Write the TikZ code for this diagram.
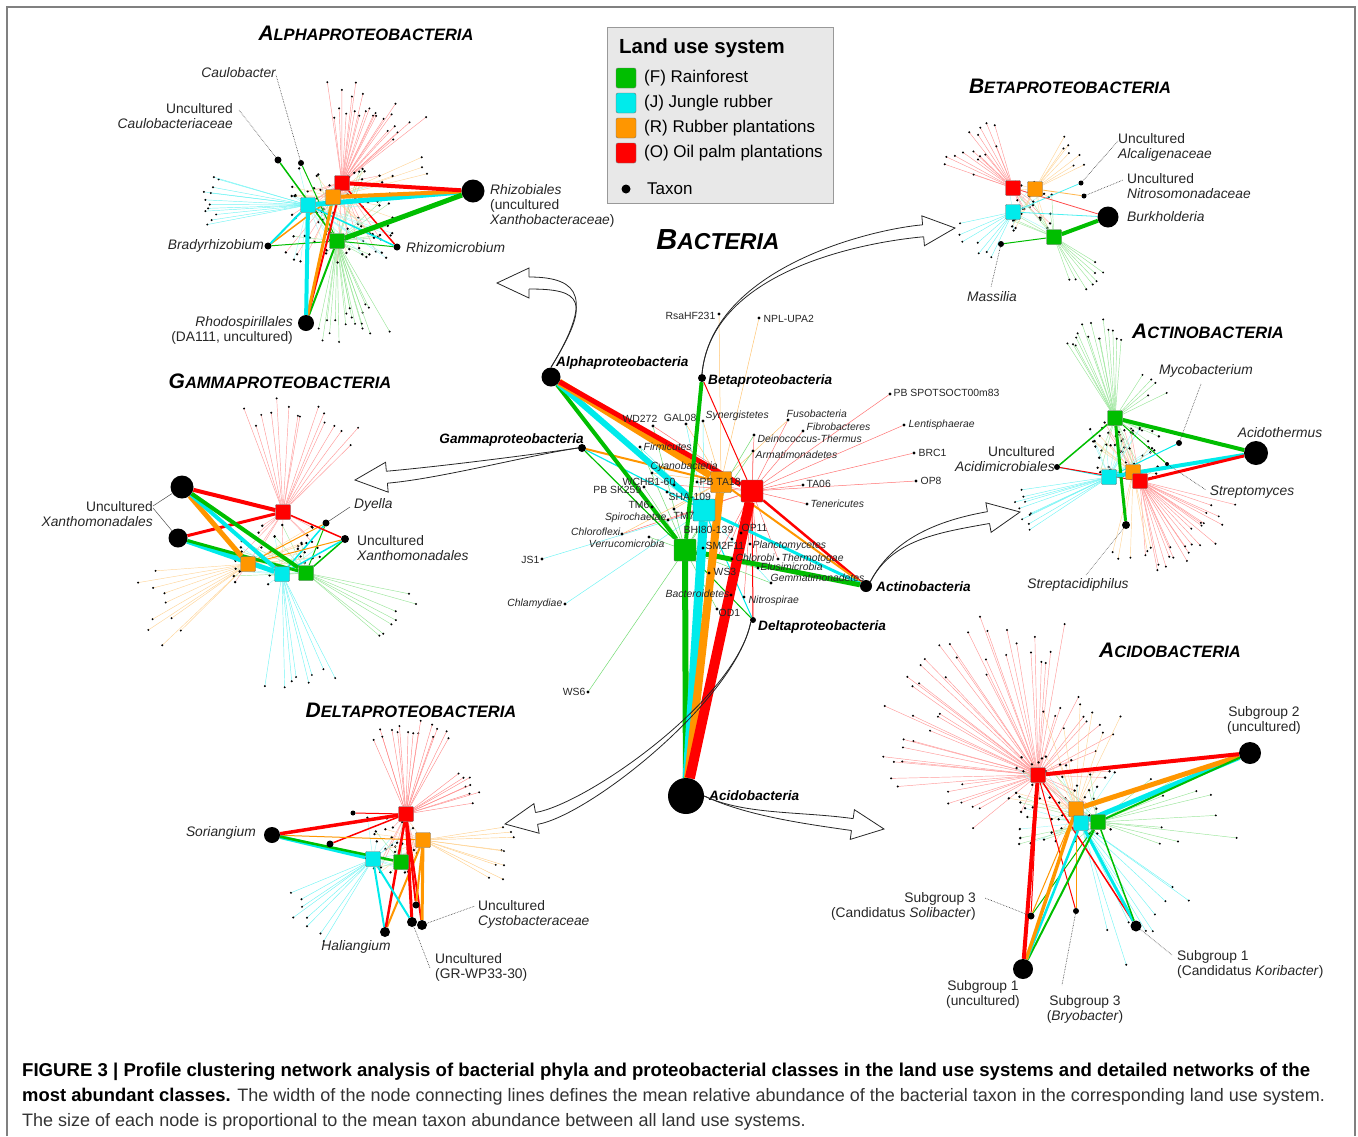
\documentclass[tikz,border=0pt]{standalone}
\usepackage{fontspec}
\setmainfont{Liberation Sans}
\usetikzlibrary{calc}
\definecolor{colF}{RGB}{0,190,0}
\definecolor{colJ}{RGB}{0,235,235}
\definecolor{colR}{RGB}{255,150,0}
\definecolor{colO}{RGB}{255,0,0}
\pgfdeclarelayer{bg}
\pgfsetlayers{bg,main}
\tikzset{
 fanline/.style={line width=0.45pt},
 sq/.style={rectangle, draw=black!55, line width=0.4pt, minimum size=15pt, inner sep=0pt, rounded corners=1pt},
 csq/.style={sq, minimum size=22pt},
 hub/.style={circle, fill=black, inner sep=0pt, minimum size=#1},
 lab/.style={font=\fontsize{13.8}{15}\selectfont, inner sep=1pt, text=black!85},
 phl/.style={font=\fontsize{10.4}{11}\selectfont, inner sep=0.5pt, text=black!85},
 cls/.style={font=\fontsize{13.6}{14}\selectfont\bfseries\itshape, inner sep=1pt},
 leader/.style={densely dotted, line width=0.6pt, black!80},
 harrow/.style={line width=0.8pt, black!85, line join=miter},
 ttl/.style={font=\bfseries\itshape, inner sep=0pt},
 cline/.style={line width=0.5pt},
}
\newcommand\sctitle[2]{{\fontsize{21}{21}\selectfont #1}{\fontsize{16.5}{16.5}\selectfont #2}}
\newcommand\netfan[7]{%
 \foreach \k in {1,...,#5}{%
  \pgfmathsetmacro\fa{#3+(#4-#3)*(\k-0.5)/#5+3*rand}%
  \pgfmathsetmacro\fr{#6+(#7-#6)*rnd}%
  \draw[fanline,#2] (#1) -- ++(\fa:\fr) coordinate (fe);
  \fill[black] (fe) circle (1.1);
 }}
\newcommand\netcluster[6]{%
 \foreach \k in {1,...,#5}{%
  \pgfmathsetmacro\px{#1+#3*rand}%
  \pgfmathsetmacro\py{#2+#4*rand}%
  \pgfmathtruncatemacro\sqi{mod(\k,4)}%
  \pgfmathsetmacro\sqn{{"F","J","R","O"}[\sqi]}%
  \draw[fanline, col\sqn!35] (#6\sqn) -- (\px,\py);
  \fill[black] (\px,\py) circle (1.3);
 }}
\newcommand\hollowarrow[4]{%
 \begin{scope}[shift={#2}, rotate=#3]
  \coordinate (hb1) at (-32,6); \coordinate (hb2) at (-32,-6);
  \coordinate (hc1) at (-85,6); \coordinate (hc2) at (-85,-6);
  \draw[harrow] (hb1) -- (-32,15) -- (0,0) -- (-32,-15) -- (hb2);
 \end{scope}
 \draw[harrow] #1 .. controls #4 and (hc1) .. (hb1);
 \draw[harrow] #1 .. controls #4 and (hc2) .. (hb2);
}
\newcommand\phy[7]{%
 \node[hub=3.2] (#1) at (#2,#3) {};
 \node[phl, anchor=#6] (#1-l) at (#4,#5) {#7};
}
\begin{document}
\begin{tikzpicture}[x=1pt,y=-1pt]
\useasboundingbox (0,0) rectangle (1358,1136);
\pgfmathsetseed{2024}
\draw[black!50, line width=1.2pt] (7,1136) -- (7,7) -- (1355,7) -- (1355,1136);

% ---------------- legend
\node[draw=black!40, fill=black!9, minimum width=226pt, minimum height=176pt, anchor=north west, inner sep=0pt] (legend) at (607,27) {};
\node[anchor=west, font=\fontsize{20.4}{21}\selectfont\bfseries, inner sep=0pt] (legT) at (619,48) {Land use system};
\node[sq, minimum size=20pt, rounded corners=2pt, fill=colF] (legF) at (626,78) {};
\node[sq, minimum size=20pt, rounded corners=2pt, fill=colJ] (legJ) at (626,103) {};
\node[sq, minimum size=20pt, rounded corners=2pt, fill=colR] (legR) at (626,128) {};
\node[sq, minimum size=20pt, rounded corners=2pt, fill=colO] (legO) at (626,153) {};
\node[hub=9] (legX) at (626,189) {};
\node[anchor=west, font=\fontsize{17}{18}\selectfont, inner sep=0pt] (legFt) at (644,78) {(F) Rainforest};
\node[anchor=west, font=\fontsize{17}{18}\selectfont, inner sep=0pt] (legJt) at (644,103) {(J) Jungle rubber};
\node[anchor=west, font=\fontsize{17}{18}\selectfont, inner sep=0pt] (legRt) at (644,128) {(R) Rubber plantations};
\node[anchor=west, font=\fontsize{17}{18}\selectfont, inner sep=0pt] (legOt) at (644,153) {(O) Oil palm plantations};
\node[anchor=west, font=\fontsize{17}{18}\selectfont, inner sep=0pt] (legXt) at (647,189) {Taxon};

% ---------------- titles
\node[ttl] (tAlpha) at (366,33) {\sctitle{A}{LPHAPROTEOBACTERIA}};
\node[ttl] (tBeta) at (1070,86) {\sctitle{B}{ETAPROTEOBACTERIA}};
\node[ttl] (tGamma) at (280,381) {\sctitle{G}{AMMAPROTEOBACTERIA}};
\node[ttl] (tActino) at (1208,331) {\sctitle{A}{CTINOBACTERIA}};
\node[ttl] (tDelta) at (411,710) {\sctitle{D}{ELTAPROTEOBACTERIA}};
\node[ttl] (tAcido) at (1170,650) {\sctitle{A}{CIDOBACTERIA}};
\node[ttl] (tBact) at (718,240) {{\fontsize{29}{29}\selectfont B}{\fontsize{23}{23}\selectfont ACTERIA}};

% ================= CENTER NETWORK
\node[csq, fill=colF] (ceF) at (685,550) {};
\node[csq, fill=colJ] (ceJ) at (704,510) {};
\node[csq, fill=colR, minimum size=21pt] (ceR) at (721,482) {};
\node[csq, fill=colO] (ceO) at (752,491) {};
\node[hub=36] (ceAcido) at (686,796) {};
\node[hub=19] (ceAlpha) at (551,377) {};
\node[hub=8] (ceBeta) at (702,378) {};
\node[hub=8] (ceGamma) at (582,448) {};
\node[hub=12] (ceActino) at (866,586) {};
\node[hub=6] (ceDelta) at (753,620) {};
\node[cls, anchor=west] (ceAlpha-l) at (555,363) {Alphaproteobacteria};
\node[cls, anchor=west] (ceBeta-l) at (707,381) {Betaproteobacteria};
\node[cls, anchor=east] (ceGamma-l) at (585,440) {Gammaproteobacteria};
\node[cls, anchor=west] (ceActino-l) at (875,587) {Actinobacteria};
\node[cls, anchor=west] (ceDelta-l) at (757,627) {Deltaproteobacteria};
\node[cls, anchor=west] (ceAcido-l) at (708,796) {Acidobacteria};

\phy{Rsa}{719}{314}{716}{316}{east}{RsaHF231}
\phy{NPL}{759}{318}{763}{319}{west}{NPL-UPA2}
\phy{SPOT}{890}{394}{893}{393}{west}{PB SPOTSOCT00m83}
\phy{Lent}{904}{425}{908}{425}{west}{\itshape Lentisphaerae}
\phy{BRC}{914}{453}{918}{453}{west}{BRC1}
\phy{OPe}{916}{481}{920}{481}{west}{OP8}
\phy{WD}{653}{426}{658}{419}{east}{WD272}
\phy{GAL}{686}{424}{697}{418}{east}{GAL08}
\phy{Syn}{703}{421}{705}{416}{west}{\itshape Synergistetes}
\phy{Fuso}{788}{420}{786}{414}{west}{\itshape Fusobacteria}
\phy{Fibro}{803}{431}{806}{427}{west}{\itshape Fibrobacteres}
\phy{Dein}{754}{435}{757}{439}{west}{\itshape Deinococcus-Thermus}
\phy{Arma}{753}{451}{755}{455}{west}{\itshape Armatimonadetes}
\phy{Firm}{640}{447}{643}{447}{west}{\itshape Firmicutes}
\phy{Cyano}{652}{473}{650}{467}{west}{\itshape Cyanobacteria}
\phy{WCHB}{674}{485}{676}{482}{east}{WCHB1-60}
\phy{PBTA}{697}{482}{699}{482}{west}{PB TA18}
\phy{PBSK}{644}{487}{642}{490}{east}{PB SK259}
\phy{SHA}{667}{492}{668}{497}{west}{SHA-109}
\phy{TMs}{652}{507}{650}{505}{east}{TM6}
\phy{TMz}{674}{509}{673}{516}{west}{TM7}
\phy{Spiro}{668}{520}{667}{518}{east}{\itshape Spirochaetae}
\phy{Chlfx}{622}{534}{621}{532}{east}{\itshape Chloroflexi}
\phy{Verr}{649}{537}{665}{544}{east}{\itshape Verrucomicrobia}
\phy{BHI}{732}{539}{734}{530}{east}{BHI80-139}
\phy{OPel}{741}{533}{741}{528}{west}{OP11}
\phy{SMz}{703}{548}{705}{546}{west}{SM2F11}
\phy{Planc}{750}{544}{752}{546}{west}{\itshape Planctomycetes}
\phy{Chlb}{732}{559}{735}{558}{west}{\itshape Chlorobi}
\phy{Thermo}{778}{559}{781}{559}{west}{\itshape Thermotogae}
\phy{Elus}{758}{568}{760}{567}{west}{\itshape Elusimicrobia}
\phy{Gemm}{771}{583}{770}{578}{west}{\itshape Gemmatimonadetes}
\phy{WSt}{709}{573}{713}{572}{west}{WS3}
\phy{Bact}{731}{595}{730}{594}{east}{\itshape Bacteroidetes}
\phy{Nitro}{744}{597}{748}{601}{west}{\itshape Nitrospirae}
\phy{ODo}{717}{609}{718}{613}{west}{OD1}
\phy{JSo}{542}{559}{540}{560}{east}{JS1}
\phy{Chlam}{565}{604}{563}{604}{east}{\itshape Chlamydiae}
\phy{TAz}{803}{485}{806}{484}{west}{TA06}
\phy{Tene}{807}{504}{810}{504}{west}{\itshape Tenericutes}
\phy{WSs}{588}{692}{586}{692}{east}{WS6}

\begin{pgfonlayer}{bg}
\foreach \p/\c in {Rsa/R, NPL/R, SPOT/O, Lent/O, BRC/O, OPe/O, TAz/O, Tene/O, Fibro/O, Fuso/O, Fuso/R, Dein/O, Dein/F, Arma/O, Arma/F, WD/O, WD/F, GAL/J, GAL/R, Syn/J, Syn/R, Firm/F, Firm/J, Cyano/R, Cyano/J, WCHB/O, PBTA/O, PBSK/F, SHA/J, TMs/F, TMz/R, Spiro/O, Chlfx/R, Chlfx/O, Verr/F, BHI/O, OPel/O, SMz/F, Planc/O, Chlb/F, Thermo/O, Elus/F, Elus/O, Gemm/F, Gemm/J, WSt/O, Bact/O, Nitro/O, ODo/F, JSo/J, Chlam/J, WSs/F}
  \draw[cline, col\c!55] (ce\c) -- (\p);
\draw[colO, line width=1pt] (ceO) -- (ceBeta);
\draw[colF, line width=1pt] (ceF) -- (ceDelta);
\draw[colJ, line width=1pt] (ceJ) -- (ceDelta);
\draw[colO, line width=1pt] (ceO) -- (ceDelta);
\draw[colF, line width=1.2pt] (ceF) -- (ceGamma);
\draw[colJ, line width=1.2pt] (ceJ) -- (ceGamma);
\draw[colR, line width=2pt] (ceR) -- (ceGamma);
\draw[colF, line width=4pt] (ceF) -- (ceAlpha);
\draw[colJ, line width=6pt] (ceJ) -- (ceAlpha);
\draw[colR, line width=7pt] (ceR) -- (ceAlpha);
\draw[colO, line width=5pt] (ceO) -- (ceAlpha);
\draw[colF, line width=4pt] (ceF) -- (ceBeta);
\draw[colO, line width=2.5pt] (ceO) -- (ceActino);
\draw[colR, line width=2pt] (ceR) -- (ceActino);
\draw[colJ, line width=3pt] (ceJ) -- (ceActino);
\draw[colF, line width=5pt] (ceF) -- (ceActino);
\draw[colF, line width=6pt] (ceF) -- (ceAcido);
\draw[colJ, line width=9pt] (ceJ) -- (ceAcido);
\draw[colR, line width=8pt] (ceR) -- (ceAcido);
\draw[colO, line width=10pt] (ceO) -- (ceAcido);
\end{pgfonlayer}

% hollow arrows
\hollowarrow{(ceAlpha.north)}{(497,283)}{180}{(592,300)}
\hollowarrow{(ceBeta.north)}{(955,228)}{5}{(712,268)}
\hollowarrow{(ceGamma.west)}{(355,480)}{185}{(530,455)}
\hollowarrow{(ceActino.north east)}{(1020,512)}{10}{(892,540)}
\hollowarrow{(ceDelta.south west)}{(505,824)}{190}{(735,700)}
\hollowarrow{(ceAcido.east)}{(884,829)}{-8}{(745,815)}

% ================= ALPHA
\node[sq, fill=colO] (alO) at (342,183) {};
\node[sq, fill=colR] (alR) at (333,197) {};
\node[sq, fill=colJ] (alJ) at (308,205) {};
\node[sq, fill=colF] (alF) at (337,241) {};
\node[hub=23] (alRhizob) at (473,191) {};
\node[hub=7] (alBrady) at (268,246) {};
\node[hub=7] (alRhizom) at (397,247) {};
\node[hub=16] (alRhodo) at (306,323) {};
\node[hub=6] (alCaulo) at (301,163) {};
\node[hub=7] (alCauloF) at (278,160) {};
\begin{pgfonlayer}{bg}
\netfan{alO}{colO!40}{-100}{-35}{24}{65}{110}
\netfan{alR}{colR!40}{-25}{-10}{3}{90}{100}
\netfan{alJ}{colJ!55}{165}{200}{12}{90}{105}
\netfan{alF}{colF!40}{60}{100}{18}{65}{105}
\netcluster{338}{215}{55}{48}{90}{al}
\draw[colF, line width=1.5pt] (alF) -- (alCauloF);
\draw[colF, line width=1pt] (alF) -- (alCaulo);
\draw[colF, line width=1pt] (alF) -- (alBrady);
\draw[colR, line width=1.5pt] (alR) -- (alBrady);
\draw[colJ, line width=2pt] (alJ) -- (alBrady);
\draw[colF, line width=1pt] (alF) -- (alRhizom);
\draw[colJ, line width=1.5pt] (alJ) -- (alRhizom);
\draw[colO, line width=1.5pt] (alO) -- (alRhizom);
\draw[colF, line width=2pt] (alF) -- (alRhodo);
\draw[colO, line width=2pt] (alO) -- (alRhodo);
\draw[colR, line width=3pt] (alR) -- (alRhodo);
\draw[colJ, line width=4pt] (alJ) -- (alRhodo);
\draw[colJ, line width=5pt] (alJ) -- (alRhizob);
\draw[colR, line width=4pt] (alR) -- (alRhizob);
\draw[colO, line width=4pt] (alO) -- (alRhizob);
\draw[colF, line width=5pt] (alF) -- (alRhizob);
\end{pgfonlayer}
\node[lab, anchor=east] (alCaulo-l) at (277,73) {\itshape Caulobacter};
\draw[leader] (alCaulo) -- (276,75);
\node[lab, anchor=east, align=right] (alCauloF-l) at (234,116) {Uncultured\\\itshape Caulobacteriaceae};
\draw[leader] (alCauloF) -- (239,110);
\node[lab, anchor=west, align=left] (alRhizob-l) at (489,206) {{\itshape Rhizobiales}\\(uncultured\\{\itshape Xanthobacteraceae})};
\node[lab, anchor=east] (alBrady-l) at (265,246) {\itshape Bradyrhizobium};
\node[lab, anchor=west] (alRhizom-l) at (405,248) {\itshape Rhizomicrobium};
\node[lab, anchor=east, align=right] (alRhodo-l) at (294,330) {{\itshape Rhodospirillales}\\(DA111, uncultured)};

% ================= BETA
\node[sq, fill=colO] (beO) at (1013,188) {};
\node[sq, fill=colR] (beR) at (1035,189) {};
\node[sq, fill=colJ] (beJ) at (1013,212) {};
\node[sq, fill=colF] (beF) at (1054,237) {};
\node[hub=21] (beBurk) at (1108,217) {};
\node[hub=6] (beMass) at (1001,244) {};
\node[hub=5] (beAlc) at (1081,183) {};
\node[hub=5] (beNit) at (1084,196) {};
\begin{pgfonlayer}{bg}
\netfan{beO}{colO!40}{195}{255}{15}{40}{75}
\netfan{beR}{colR!40}{-65}{-25}{7}{45}{65}
\netfan{beJ}{colJ!55}{110}{170}{7}{40}{65}
\netfan{beF}{colF!40}{30}{70}{8}{45}{65}
\netcluster{1030}{207}{22}{25}{35}{be}
\draw[colR!70, line width=0.8pt] (beR) -- (beNit);
\draw[colJ!70, line width=0.8pt] (beJ) -- (beAlc);
\draw[colO!70, line width=0.8pt] (beO) -- (beBurk);
\draw[colJ!70, line width=0.8pt] (beJ) -- (beBurk);
\draw[colF, line width=1pt] (beF) -- (beMass);
\draw[colF, line width=4pt] (beF) -- (beBurk);
\end{pgfonlayer}
\node[lab, anchor=west, align=left] (beAlc-l) at (1117,147) {Uncultured\\\itshape Alcaligenaceae};
\draw[leader] (beAlc) -- (1118,141);
\node[lab, anchor=west, align=left] (beNit-l) at (1126,186) {Uncultured\\\itshape Nitrosomonadaceae};
\draw[leader] (beNit) -- (1123,180);
\node[lab, anchor=west] (beBurk-l) at (1126,217) {\itshape Burkholderia};
\node[lab] (beMass-l) at (992,297) {\itshape Massilia};
\draw[leader] (beMass) -- (991,287);

% ================= ACTINO
\node[sq, fill=colF] (acF) at (1115,418) {};
\node[sq, fill=colR] (acR) at (1133,472) {};
\node[sq, fill=colJ] (acJ) at (1109,477) {};
\node[sq, fill=colO] (acO) at (1140,481) {};
\node[hub=24] (acAcido) at (1256,453) {};
\node[hub=6] (acAcim) at (1057,467) {};
\node[hub=6] (acMyco) at (1179,443) {};
\node[hub=4] (acStrepto) at (1167,464) {};
\node[hub=8] (acStrepta) at (1126,525) {};
\begin{pgfonlayer}{bg}
\netfan{acF}{colF!40}{-125}{-85}{15}{75}{100}
\netfan{acF}{colF!40}{-60}{-25}{5}{40}{60}
\netfan{acO}{colO!40}{15}{85}{22}{70}{100}
\netfan{acJ}{colJ!55}{145}{172}{10}{85}{100}
\netfan{acR}{colR!40}{70}{110}{5}{70}{90}
\netcluster{1125}{450}{35}{30}{60}{ac}
\draw[colF, line width=1.5pt] (acF) -- (acAcim);
\draw[colJ, line width=1pt] (acJ) -- (acAcim);
\draw[colO, line width=1pt] (acO) -- (acAcim);
\draw[colF, line width=1pt] (acF) -- (acStrepto);
\draw[colJ, line width=1pt] (acJ) -- (acMyco);
\draw[colF, line width=3pt] (acF) -- (acStrepta);
\draw[colR, line width=1.5pt] (acR) -- (acAcido);
\draw[colJ, line width=4pt] (acJ) -- (acAcido);
\draw[colO, line width=3pt] (acO) -- (acAcido);
\draw[colF, line width=4pt] (acF) -- (acAcido);
\end{pgfonlayer}
\node[lab] (acMyco-l) at (1206,371) {\itshape Mycobacterium};
\draw[leader] (acMyco) -- (1201,384);
\node[lab] (acAcido-l) at (1280,433) {\itshape Acidothermus};
\node[lab, anchor=east, align=right] (acAcim-l) at (1056,459) {Uncultured\\\itshape Acidimicrobiales};
\node[lab] (acStrepto-l) at (1252,492) {\itshape Streptomyces};
\draw[leader] (acStrepto) -- (1206,490);
\node[lab] (acStrepta-l) at (1078,585) {\itshape Streptacidiphilus};
\draw[leader] (acStrepta) -- (1086,575);

% ================= GAMMA
\node[sq, fill=colO] (gaO) at (283,512) {};
\node[sq, fill=colR] (gaR) at (248,564) {};
\node[sq, fill=colJ] (gaJ) at (282,574) {};
\node[sq, fill=colF] (gaF) at (306,573) {};
\node[hub=23] (gaXa) at (182,487) {};
\node[hub=19] (gaXb) at (178,538) {};
\node[hub=7] (gaDy) at (326,523) {};
\node[hub=8] (gaXc) at (345,539) {};
\begin{pgfonlayer}{bg}
\netfan{gaO}{colO!40}{-115}{-40}{15}{90}{115}
\netfan{gaR}{colR!40}{130}{178}{10}{85}{120}
\netfan{gaJ}{colJ!55}{62}{98}{8}{100}{118}
\netfan{gaF}{colF!40}{10}{45}{7}{95}{115}
\netcluster{275}{555}{45}{30}{35}{ga}
\draw[colJ, line width=1.5pt] (gaJ) -- (gaDy);
\draw[colF, line width=1pt] (gaF) -- (gaDy);
\draw[colR, line width=1pt] (gaR) -- (gaDy);
\draw[colO, line width=1.5pt] (gaO) -- (gaXc);
\draw[colF, line width=1.5pt] (gaF) -- (gaXc);
\draw[colJ, line width=1.5pt] (gaJ) -- (gaXc);
\draw[colR, line width=1pt] (gaR) -- (gaXc);
\draw[colR, line width=1.5pt] (gaXb) -- (gaR);
\draw[colJ, line width=5pt] (gaXb) -- (gaJ);
\draw[colF, line width=3pt] (gaXb) -- (gaF);
\draw[colO, line width=3pt] (gaXb) -- (gaO);
\draw[colR, line width=5pt] (gaXa) -- (gaR);
\draw[colJ, line width=4pt] (gaXa) -- (gaJ);
\draw[colF, line width=4pt] (gaXa) -- (gaF);
\draw[colO, line width=4pt] (gaXa) -- (gaO);
\end{pgfonlayer}
\node[lab, anchor=east, align=right] (gaX-l) at (154,514) {Uncultured\\\itshape Xanthomonadales};
\draw[black!70, line width=0.5pt] (153,506) -- (gaXa);
\draw[black!70, line width=0.5pt] (153,508) -- (gaXb);
\node[lab, anchor=west] (gaDy-l) at (353,505) {\itshape Dyella};
\draw[black!70, line width=0.5pt] (gaDy) -- (350,507);
\node[lab, anchor=west, align=left] (gaXc-l) at (356,548) {Uncultured\\\itshape Xanthomonadales};

% ================= DELTA
\node[sq, fill=colO] (deO) at (406,814) {};
\node[sq, fill=colR] (deR) at (423,840) {};
\node[sq, fill=colJ] (deJ) at (373,859) {};
\node[sq, fill=colF] (deF) at (401,862) {};
\node[hub=16] (deSor) at (272,835) {};
\node[hub=10] (deHal) at (385,932) {};
\node[hub=10] (deCys) at (422,925) {};
\node[hub=10] (deGR) at (412,922) {};
\node[hub=7] (deDa) at (416,905) {};
\node[hub=7] (deDb) at (330,844) {};
\node[hub=5] (deDc) at (353,813) {};
\begin{pgfonlayer}{bg}
\netfan{deO}{colO!45}{-115}{-60}{15}{80}{95}
\netfan{deO}{colO!45}{-40}{-10}{8}{55}{80}
\netfan{deR}{colR!45}{-10}{30}{9}{75}{95}
\netfan{deJ}{colJ!55}{120}{160}{8}{80}{100}
\netcluster{390}{845}{35}{30}{35}{de}
\draw[colO, line width=1.5pt] (deDb) -- (deO);
\draw[colO, line width=1pt] (deDc) -- (deO);
\draw[colR, line width=1pt] (deSor) -- (deR);
\draw[colJ, line width=4pt] (deSor) -- (deJ);
\draw[colF, line width=2.5pt] (deSor) -- (deF);
\draw[colO, line width=3.5pt] (deSor) -- (deO);
\draw[colJ, line width=2pt] (deJ) -- (deHal);
\draw[colR, line width=2pt] (deR) -- (deHal);
\draw[colO, line width=2.5pt] (deO) -- (deHal);
\draw[colJ, line width=2pt] (deJ) -- (deGR);
\draw[colO, line width=3pt] (deO) -- (deGR);
\draw[colO, line width=2pt] (deO) -- (deCys);
\draw[colR, line width=3pt] (deR) -- (deCys);
\draw[colO, line width=2pt] (deO) -- (deDa);
\draw[colR, line width=2pt] (deR) -- (deDa);
\end{pgfonlayer}
\node[lab, anchor=east] (deSor-l) at (257,833) {\itshape Soriangium};
\node[lab] (deHal-l) at (356,947) {\itshape Haliangium};
\node[lab, anchor=west, align=left] (deCys-l) at (477,914) {Uncultured\\\itshape Cystobacteraceae};
\draw[leader] (deCys) -- (475,906);
\node[lab, anchor=west, align=left] (deGR-l) at (434,967) {Uncultured\\(GR-WP33-30)};
\draw[leader] (deGR) -- (430,968);

% ================= ACIDO
\node[sq, fill=colO] (adO) at (1038,775) {};
\node[sq, fill=colR] (adR) at (1076,809) {};
\node[sq, fill=colJ] (adJ) at (1081,823) {};
\node[sq, fill=colF] (adF) at (1098,822) {};
\node[hub=22] (adSGb) at (1250,753) {};
\node[hub=20] (adSGa) at (1023,969) {};
\node[hub=7] (adSol) at (1031,916) {};
\node[hub=6] (adBry) at (1076,911) {};
\node[hub=11] (adKor) at (1136,926) {};
\begin{pgfonlayer}{bg}
\netfan{adO}{colO!40}{175}{280}{36}{110}{170}
\netfan{adO}{colO!40}{140}{175}{7}{60}{95}
\netfan{adO}{colO!40}{-80}{-20}{8}{50}{90}
\netfan{adJ}{colJ!55}{30}{80}{9}{100}{150}
\netfan{adF}{colF!40}{-40}{25}{10}{60}{150}
\netfan{adR}{colR!40}{-110}{-60}{6}{70}{110}
\netcluster{1060}{800}{55}{45}{60}{ad}
\draw[colO, line width=1pt] (adO) -- (adSol);
\draw[colF, line width=1pt] (adF) -- (adSol);
\draw[colR, line width=1pt] (adR) -- (adSol);
\draw[colO, line width=1pt] (adO) -- (adBry);
\draw[colR, line width=1pt] (adR) -- (adBry);
\draw[colO, line width=1.5pt] (adO) -- (adKor);
\draw[colJ, line width=3pt] (adJ) -- (adKor);
\draw[colF, line width=1.5pt] (adF) -- (adKor);
\draw[colF, line width=2pt] (adF) -- (adSGa);
\draw[colJ, line width=2.5pt] (adJ) -- (adSGa);
\draw[colR, line width=3.5pt] (adR) -- (adSGa);
\draw[colO, line width=4pt] (adO) -- (adSGa);
\draw[colJ, line width=5pt] (adJ) -- (adSGb);
\draw[colR, line width=5pt] (adR) -- (adSGb);
\draw[colF, line width=2pt] (adF) -- (adSGb);
\draw[colO, line width=4pt] (adO) -- (adSGb);
\end{pgfonlayer}
\node[lab, align=center] (adSGb-l) at (1264,720) {Subgroup 2\\(uncultured)};
\node[lab, anchor=east, align=right] (adSol-l) at (977,906) {Subgroup 3\\(Candidatus \textit{Solibacter})};
\draw[leader] (adSol) -- (985,898);
\node[lab, align=center] (adSGa-l) at (983,994) {Subgroup 1\\(uncultured)};
\node[lab, align=center] (adBry-l) at (1085,1009) {Subgroup 3\\(\textit{Bryobacter})};
\draw[leader] (adBry) -- (1062,985);
\node[lab, anchor=west, align=left] (adKor-l) at (1176,964) {Subgroup 1\\(Candidatus \textit{Koribacter})};
\draw[leader] (adKor) -- (1172,955);

% ================= CAPTION
\node[anchor=base west, inner sep=0pt, font=\fontsize{18.6}{20}\selectfont\bfseries] (cap1) at (22,1076) {FIGURE 3 | Profile clustering network analysis of bacterial phyla and proteobacterial classes in the land use systems and detailed networks of the};
\node[anchor=base west, inner sep=0pt, font=\fontsize{18}{20}\selectfont, text=black!80] (cap2) at (22,1101) {{\fontsize{18.4}{20}\selectfont\bfseries\color{black}most abundant classes.} The width of the node connecting lines defines the mean relative abundance of the bacterial taxon in the corresponding land use system.};
\node[anchor=base west, inner sep=0pt, font=\fontsize{18}{20}\selectfont, text=black!80] (cap3) at (22,1126) {The size of each node is proportional to the mean taxon abundance between all land use systems.};
\end{tikzpicture}
\end{document}
